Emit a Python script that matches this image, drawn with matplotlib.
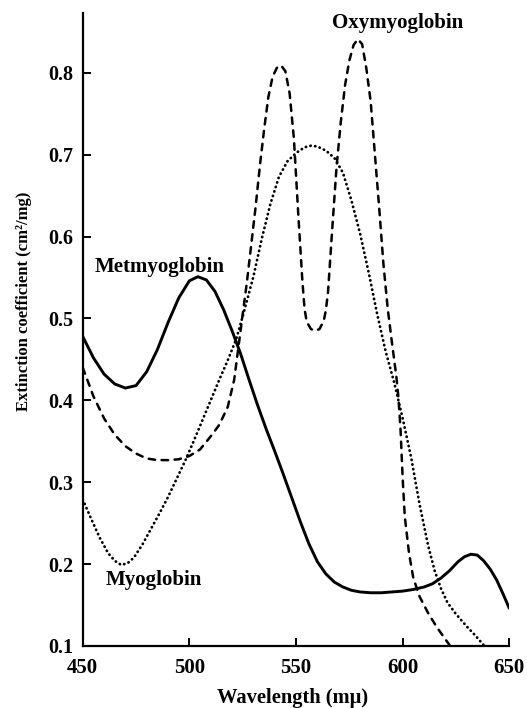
import matplotlib
matplotlib.use("Agg")
import matplotlib.pyplot as plt

# ---- data ----
met_wl = [450, 455, 460, 465, 470, 475, 480, 485, 490, 495, 500, 504, 508, 512, 516,
          520, 524, 528, 532, 536, 540, 544, 548, 552, 556, 560, 564, 568, 572, 576,
          580, 585, 590, 595, 600, 605, 610, 614, 618, 622, 626, 629, 632, 635, 638,
          641, 644, 647, 650]
met_ext = [0.478, 0.452, 0.432, 0.420, 0.415, 0.418, 0.435, 0.462, 0.495, 0.525, 0.546,
           0.551, 0.547, 0.533, 0.511, 0.485, 0.457, 0.425, 0.394, 0.365, 0.338, 0.310,
           0.281, 0.252, 0.225, 0.203, 0.188, 0.178, 0.172, 0.168, 0.166, 0.165, 0.165,
           0.166, 0.167, 0.169, 0.172, 0.176, 0.183, 0.192, 0.203, 0.209, 0.212, 0.211,
           0.204, 0.194, 0.181, 0.164, 0.146]

oxy_wl = [450, 455, 460, 465, 470, 475, 480, 485, 490, 495, 500, 505, 510, 514, 518,
          521, 523, 525, 527, 529, 531, 533, 535, 537, 539, 541, 543, 545, 547, 549,
          551, 553, 554, 555, 557, 559, 561, 563, 564, 565, 567, 569, 571, 573, 575,
          577, 579, 581, 583, 585, 587, 589, 591, 593, 595, 597, 598, 599, 600, 601,
          603, 605, 608, 612, 616, 619, 622]
oxy_ext = [0.440, 0.405, 0.378, 0.358, 0.344, 0.335, 0.329, 0.327, 0.327, 0.328, 0.332,
           0.340, 0.356, 0.370, 0.392, 0.425, 0.465, 0.505, 0.545, 0.590, 0.635, 0.685,
           0.730, 0.770, 0.795, 0.806, 0.809, 0.802, 0.775, 0.720, 0.630, 0.545, 0.512,
           0.496, 0.487, 0.485, 0.487, 0.497, 0.510, 0.532, 0.610, 0.685, 0.740, 0.785,
           0.815, 0.834, 0.841, 0.835, 0.805, 0.765, 0.700, 0.635, 0.566, 0.512, 0.470,
           0.430, 0.404, 0.365, 0.305, 0.258, 0.213, 0.183, 0.160, 0.140, 0.123, 0.112,
           0.101]

myo_wl = [450, 454, 458, 462, 465, 468, 471, 474, 478, 482, 486, 490, 494, 498, 502,
          506, 510, 514, 518, 522, 526, 530, 534, 538, 542, 546, 550, 554, 557, 560,
          564, 568, 572, 576, 580, 584, 588, 592, 596, 600, 604, 608, 612, 615, 618,
          621, 625, 630, 634, 638]
myo_ext = [0.279, 0.255, 0.232, 0.213, 0.204, 0.199, 0.201, 0.208, 0.224, 0.243, 0.262,
           0.282, 0.304, 0.326, 0.350, 0.375, 0.400, 0.425, 0.449, 0.475, 0.512, 0.551,
           0.598, 0.640, 0.673, 0.692, 0.702, 0.709, 0.711, 0.710, 0.705, 0.696, 0.678,
           0.644, 0.604, 0.557, 0.506, 0.460, 0.422, 0.378, 0.330, 0.272, 0.222, 0.192,
           0.170, 0.153, 0.139, 0.124, 0.113, 0.101]

x_ticks = [450, 500, 550, 600, 650]
x_tick_labels = ["450", "500", "550", "600", "650"]
y_ticks = [0.1, 0.2, 0.3, 0.4, 0.5, 0.6, 0.7, 0.8]
y_tick_labels = ["0.1", "0.2", "0.3", "0.4", "0.5", "0.6", "0.7", "0.8"]

# ---- figure ----
plt.rcParams['font.family'] = ['Liberation Serif', 'DejaVu Serif']
plt.rcParams['font.weight'] = 'bold'

fig = plt.figure(figsize=(5.27, 7.08), dpi=100)
ax = fig.add_axes([0.157, 0.0876, 0.8094, 0.894])

ax.plot(met_wl, met_ext, color='black', lw=2.1, solid_capstyle='round',
        solid_joinstyle='round')
ax.plot(oxy_wl, oxy_ext, color='black', lw=1.8, linestyle=(0, (2.6, 2.6)),
        dash_capstyle='round')
ax.plot(myo_wl, myo_ext, color='black', lw=2.0, linestyle=(0, (0.1, 1.6)),
        dash_capstyle='round')

ax.set_xlim(450, 650)
ax.set_ylim(0.1, 0.873)
ax.set_xticks(x_ticks)
ax.set_xticklabels(x_tick_labels)
ax.set_yticks(y_ticks)
ax.set_yticklabels(y_tick_labels)

for s in ['top', 'right']:
    ax.spines[s].set_visible(False)
for s in ['left', 'bottom']:
    ax.spines[s].set_linewidth(1.6)

ax.tick_params(axis='y', direction='in', length=5.5, width=1.4,
               labelsize=14.5, pad=7)
ax.tick_params(axis='x', direction='in', length=5.5, width=1.4,
               labelsize=15, pad=9)
for lab in ax.get_xticklabels() + ax.get_yticklabels():
    lab.set_fontweight('bold')

ax.text(455.8, 0.563, "Metmyoglobin", fontsize=15, fontweight='bold',
        ha='left', va='center')
ax.text(597.8, 0.861, "Oxymyoglobin", fontsize=15, fontweight='bold',
        ha='center', va='center')
ax.text(460.9, 0.181, "Myoglobin", fontsize=15, fontweight='bold',
        ha='left', va='center')

fig.text(0.556, 0.014, "Wavelength (m\u03bc)", fontsize=14.8, fontweight='bold',
         ha='center', va='center')
fig.text(0.046, 0.575, "Extinction coefficient (cm\u00b2/mg)", fontsize=12,
         fontweight='bold', ha='center', va='center', rotation=90)

fig.savefig("out.png", dpi=100)
